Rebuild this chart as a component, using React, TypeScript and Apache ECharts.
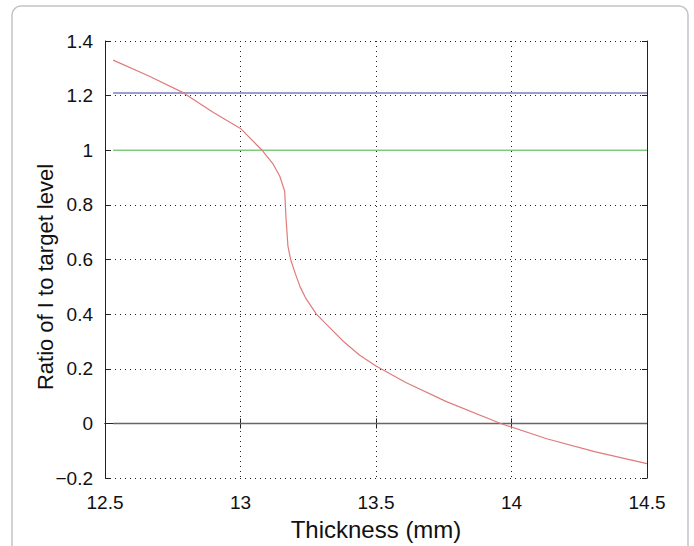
import React, { useEffect, useRef } from "react";
import * as echarts from "echarts";

const xTicks = [12.5, 13, 13.5, 14, 14.5];
const curveX = [12.53, 12.66, 12.79, 12.9, 13.0, 13.08, 13.12, 13.145, 13.163, 13.168, 13.175, 13.185, 13.2, 13.22, 13.24, 13.28, 13.33, 13.38, 13.44, 13.5, 13.61, 13.76, 13.96, 14.13, 14.31, 14.5];
const curveY = [1.33, 1.273, 1.21, 1.138, 1.08, 1.0, 0.95, 0.905, 0.85, 0.75, 0.65, 0.6, 0.555, 0.5, 0.46, 0.4, 0.35, 0.3, 0.25, 0.21, 0.15, 0.08, 0.0, -0.056, -0.104, -0.147];
const lineStartX = 12.53;
const lineEndX = 14.5;
const upperLevel = 1.21;
const targetLevel = 1.0;
const zeroLevel = 0;
const xTitle = "Thickness (mm)";
const yTitle = "Ratio of I to target level";

export default function App() {
  const ref = useRef<HTMLDivElement>(null);
  useEffect(() => {
    if (!ref.current) return;
    const chart = echarts.init(ref.current, undefined, { renderer: "svg" });
    const font = "Liberation Sans, Arial, sans-serif";
    const fmtY = (v: number) => {
      const r = Math.round(v * 10) / 10;
      return r < 0 ? "\u2212" + String(Math.abs(r)) : String(r);
    };
    const hline = (v: number, color: string, width: number) => ({
      type: "line",
      data: [
        [lineStartX, v],
        [lineEndX, v],
      ],
      symbol: "none",
      lineStyle: { color, width },
      silent: true,
      z: 3,
    });
    const dotted = { color: "#222", type: [1, 4], width: 1 };
    chart.setOption({
      animation: false,
      backgroundColor: "#ffffff",
      graphic: [
        {
          type: "rect",
          shape: { x: 12, y: 6, width: 676, height: 600, r: 9 },
          style: { fill: "none", stroke: "#c4c4c4", lineWidth: 1.5 },
          silent: true,
        },
        {
          type: "text",
          x: 45,
          y: 277,
          rotation: Math.PI / 2,
          style: {
            text: yTitle,
            fontFamily: font,
            fontSize: 22,
            fill: "#111",
            align: "center",
            verticalAlign: "middle",
          },
          silent: true,
        },
      ],
      grid: { left: 105, right: 47, top: 41, bottom: 54, containLabel: false },
      xAxis: [
        {
          type: "value",
          min: 12.5,
          max: 14.5,
          interval: 0.5,
          name: xTitle,
          nameLocation: "middle",
          nameGap: 29,
          nameTextStyle: { fontFamily: font, fontSize: 24, color: "#111" },
          axisLine: { show: true, lineStyle: { color: "#222", width: 1 } },
          axisTick: { show: true, inside: true, length: 5, lineStyle: { color: "#222" } },
          axisLabel: {
            fontFamily: font,
            fontSize: 19,
            color: "#111",
            margin: 15,
            formatter: (v: number) => String(v),
          },
          splitLine: { show: true, lineStyle: dotted },
        },
        {
          type: "value",
          position: "top",
          min: 12.5,
          max: 14.5,
          interval: 0.5,
          axisLine: { show: true, lineStyle: { color: "#222", width: 1 } },
          axisTick: { show: true, inside: true, length: 5, lineStyle: { color: "#222" } },
          axisLabel: { show: false },
          splitLine: { show: false },
        },
      ],
      yAxis: [
        {
          type: "value",
          min: -0.2,
          max: 1.4,
          interval: 0.2,
          axisLine: { show: true, lineStyle: { color: "#222", width: 1 } },
          axisTick: { show: true, inside: true, length: 5, lineStyle: { color: "#222" } },
          axisLabel: { fontFamily: font, fontSize: 19, color: "#111", margin: 12, formatter: fmtY },
          splitLine: { show: true, lineStyle: dotted },
        },
        {
          type: "value",
          position: "right",
          min: -0.2,
          max: 1.4,
          interval: 0.2,
          axisLine: { show: true, lineStyle: { color: "#222", width: 1 } },
          axisTick: { show: true, inside: true, length: 5, lineStyle: { color: "#222" } },
          axisLabel: { show: false },
          splitLine: { show: false },
        },
      ],
      series: [
        hline(upperLevel, "#7f7fbf", 1.5),
        hline(targetLevel, "#7fcc7f", 1.5),
        hline(zeroLevel, "#666666", 1.5),
        {
          type: "line",
          data: curveX.map((x, i) => [x, curveY[i]]),
          symbol: "none",
          smooth: false,
          lineStyle: { color: "#e07b7b", width: 1.2 },
          z: 4,
        },
      ],
    });
    return () => chart.dispose();
  }, []);
  return (
    <div
      ref={ref}
      style={{ position: "fixed", left: 0, top: 0, width: 694, height: 546, background: "#fff" }}
    />
  );
}
